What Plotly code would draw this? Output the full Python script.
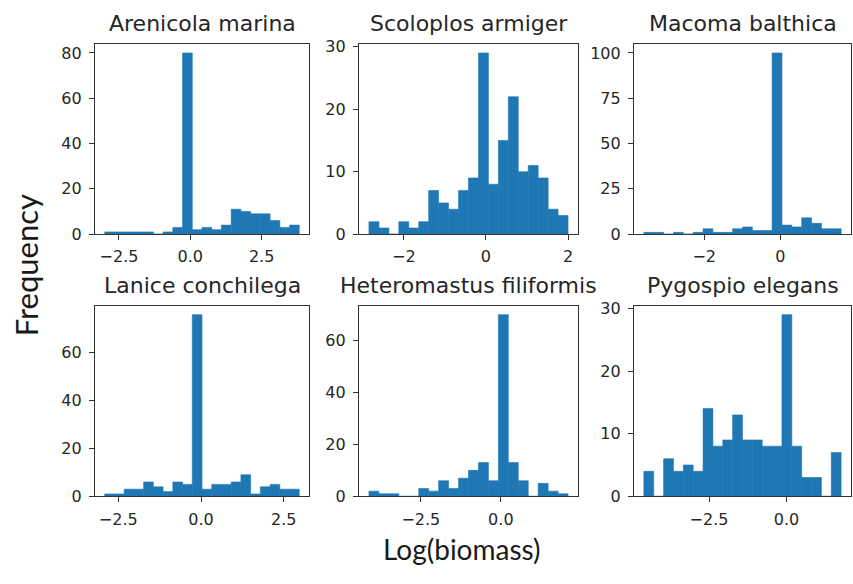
import plotly.graph_objects as go

# Six species histograms of log-transformed biomass (20 equal-width bins each)
species = [
    "Arenicola marina",
    "Scoloplos armiger",
    "Macoma balthica",
    "Lanice conchilega",
    "Heteromastus filiformis",
    "Pygospio elegans",
]

# Lowest and highest bin edge per species (log biomass)
bin_lo = [-3.00, -2.85, -3.585, -2.91, -4.12, -4.60]
bin_hi = [3.82, 2.00, 1.593, 2.97, 2.10, 1.76]

# Counts in each of the 20 bins
arenicola_counts = [1, 1, 1, 1, 1, 0, 1, 3, 80, 2, 3, 2, 4, 11, 10, 9, 9, 6, 3, 4]
scoloplos_counts = [2, 1, 0, 2, 1, 2, 7, 5, 4, 7, 9, 29, 8, 15, 22, 10, 11, 9, 4, 3]
macoma_counts = [1, 1, 0, 1, 0, 1, 3, 1, 1, 3, 4, 2, 2, 100, 5, 4, 9, 6, 3, 3]
lanice_counts = [1, 1, 3, 3, 6, 4, 2, 6, 5, 76, 3, 5, 5, 6, 9, 1, 4, 5, 3, 3]
heteromastus_counts = [2, 1, 1, 0, 0, 3, 2, 6, 3, 7, 10, 13, 6, 70, 13, 6, 0, 5, 2, 1]
pygospio_counts = [4, 0, 6, 4, 5, 4, 14, 8, 9, 13, 9, 9, 8, 8, 29, 8, 3, 3, 0, 7]

all_counts = [arenicola_counts, scoloplos_counts, macoma_counts,
              lanice_counts, heteromastus_counts, pygospio_counts]

# Tick positions and labels
x_tickvals = [[-2.5, 0, 2.5], [-2, 0, 2], [-2, 0], [-2.5, 0, 2.5], [-2.5, 0], [-2.5, 0]]
x_ticktext = [["\u22122.5", "0.0", "2.5"], ["\u22122", "0", "2"], ["\u22122", "0"],
              ["\u22122.5", "0.0", "2.5"], ["\u22122.5", "0.0"], ["\u22122.5", "0.0"]]
y_tickvals = [[0, 20, 40, 60, 80], [0, 10, 20, 30], [0, 25, 50, 75, 100],
              [0, 20, 40, 60], [0, 20, 40, 60], [0, 10, 20, 30]]

y_label = "Frequency"
x_label = "Log(biomass)"

W, H = 853, 584
BAR_COLOR = "#1f77b4"
INK = "#262626"
TICK_FONT = dict(family="DejaVu Sans", size=16, color=INK)
TITLE_FONT = dict(family="DejaVu Sans", size=22, color=INK)
LABEL_FONT_Y = dict(family="Lato", size=31, color="#1a1a1a")
LABEL_FONT_X = dict(family="Lato", size=28, color="#1a1a1a")

# Axes boxes in pixels: columns (left, right) and rows (top, bottom)
cols_px = [(95, 309), (359, 578), (634, 851)]
rows_px = [(38, 234), (307.5, 504)]

fig = go.Figure()
layout = dict(
    width=W, height=H,
    margin=dict(l=0, r=0, t=0, b=0),
    paper_bgcolor="white", plot_bgcolor="white",
    showlegend=False,
    annotations=[],
)

for i, (name, counts) in enumerate(zip(species, all_counts)):
    n = len(counts)
    width = (bin_hi[i] - bin_lo[i]) / n
    centers = [bin_lo[i] + width * (k + 0.5) for k in range(n)]
    suffix = "" if i == 0 else str(i + 1)
    fig.add_trace(go.Bar(
        x=centers, y=counts, width=width,
        marker=dict(color=BAR_COLOR, line=dict(width=0.6, color=BAR_COLOR)),
        xaxis="x" + suffix, yaxis="y" + suffix,
        hoverinfo="skip",
    ))

    r, c = divmod(i, 3)
    left, right = cols_px[c]
    top, bottom = rows_px[r]
    span = bin_hi[i] - bin_lo[i]
    common = dict(
        showline=True, mirror=True, linecolor="#333333", linewidth=1.2,
        ticks="outside", ticklen=5, tickwidth=1.2, tickcolor="#333333",
        showgrid=False, zeroline=False, tickfont=TICK_FONT,
    )
    layout["xaxis" + suffix] = dict(
        domain=[left / W, right / W],
        range=[bin_lo[i] - 0.05 * span, bin_hi[i] + 0.05 * span],
        anchor="y" + suffix,
        tickmode="array", tickvals=x_tickvals[i], ticktext=x_ticktext[i],
        ticklabelstandoff=3,
        **common,
    )
    layout["yaxis" + suffix] = dict(
        domain=[1 - bottom / H, 1 - top / H],
        range=[0, max(counts) * 1.05],
        anchor="x" + suffix,
        tickmode="array", tickvals=y_tickvals[i],
        ticklabelstandoff=4,
        **common,
    )
    layout["annotations"].append(dict(
        text=name, showarrow=False,
        xref="x" + suffix + " domain", yref="y" + suffix + " domain",
        x=0.5, y=1, xanchor="center", yanchor="bottom", yshift=6,
        font=TITLE_FONT,
    ))

layout["annotations"].append(dict(
    text=y_label, showarrow=False, textangle=-90,
    xref="paper", yref="paper", x=26 / W, y=1 - 266 / H,
    xanchor="center", yanchor="middle", font=LABEL_FONT_Y,
))
layout["annotations"].append(dict(
    text=x_label, showarrow=False,
    xref="paper", yref="paper", x=462 / W, y=1 - 558 / H,
    xanchor="center", yanchor="middle", font=LABEL_FONT_X,
))

fig.update_layout(**layout)
fig.write_html("out.html")
